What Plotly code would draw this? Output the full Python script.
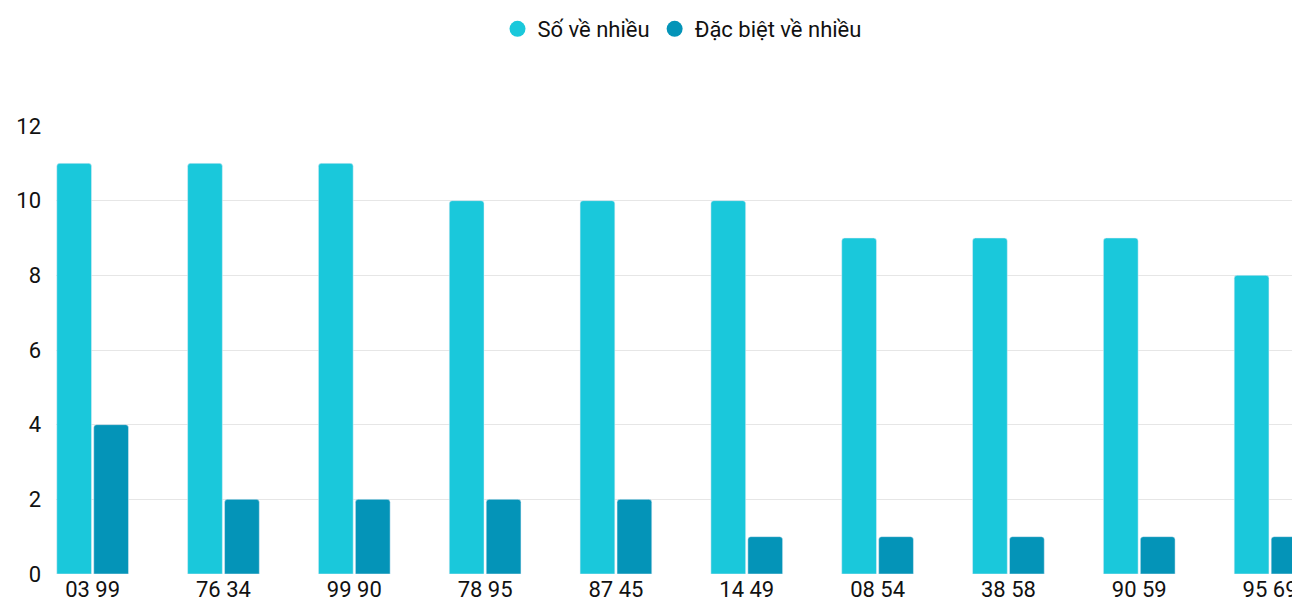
import plotly.graph_objects as go

categories = ["03 99", "76 34", "99 90", "78 95", "87 45", "14 49", "08 54", "38 58", "90 59", "95 69"]
so_ve_nhieu = [11, 11, 11, 10, 10, 10, 9, 9, 9, 8]
dac_biet = [4, 2, 2, 2, 2, 1, 1, 1, 1, 1]

c1 = "#1ac8db"
c2 = "#0494b8"

fig = go.Figure()
fig.add_bar(x=categories, y=so_ve_nhieu, name="Số về nhiều", marker=dict(color=c1, cornerradius=3),
            showlegend=False)
fig.add_bar(x=categories, y=dac_biet, name="Đặc biệt về nhiều", marker=dict(color=c2, cornerradius=3),
            showlegend=False)
# legend entries with round markers
for name, col in [("Số về nhiều", c1), ("Đặc biệt về nhiều", c2)]:
    fig.add_scatter(x=[None], y=[None], mode="markers", name=name,
                    marker=dict(color=col, size=26, symbol="circle"))

fig.update_layout(
    width=1300, height=600,
    margin=dict(l=48, r=0, t=77, b=34),
    plot_bgcolor="white", paper_bgcolor="white",
    font=dict(family="Roboto", size=22, color="#111"),
    barmode="group", bargap=0.435, bargroupgap=0.06,
    legend=dict(orientation="h", x=0.5, xanchor="center", y=1.17, yanchor="bottom",
                font=dict(size=22), itemsizing="trace"),
    xaxis=dict(range=[-0.28, 9.29], showgrid=False, ticks="", showline=False),
    yaxis=dict(range=[0, 12], dtick=2, gridcolor="#e6e6e6", zeroline=False, ticks="",
               ticklabelstandoff=14),
)
fig.write_html("out.html")
